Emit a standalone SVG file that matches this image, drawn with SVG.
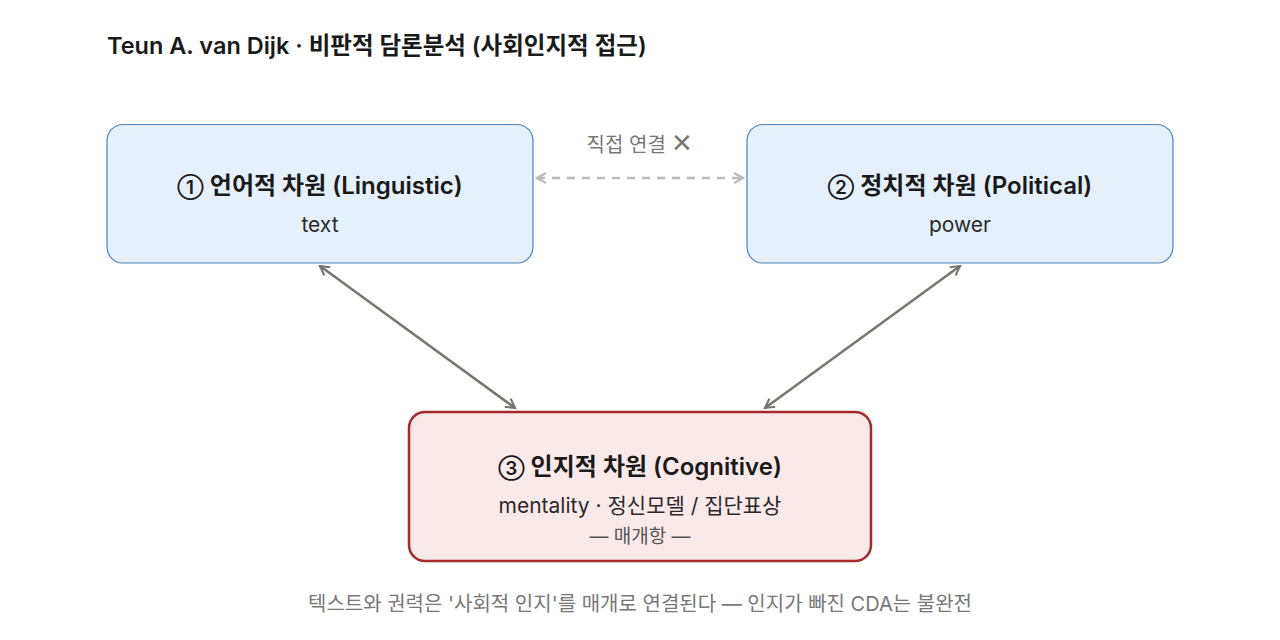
<svg xmlns="http://www.w3.org/2000/svg" width="1280" height="640" viewBox="0 0 1280 640">
<style>
text{font-family:Inter,"Noto Sans CJK KR",sans-serif}
.title{font-size:23.5px;font-weight:600;fill:#1a1a1a}
.h{font-size:24px;font-weight:600;fill:#1a1a1a;text-anchor:middle}
.c{font-size:19px}
.s{font-size:21px;fill:#2a2a2a;text-anchor:middle}
.g{font-size:19px;fill:#555;text-anchor:middle}
.note{font-size:20px;fill:#777;text-anchor:middle}
.blue{fill:#e5f0fb;stroke:#4f82bf;stroke-width:1.2}
.red{fill:#fae9e9;stroke:#a52a2a;stroke-width:2.5}
.conn{stroke:#77756f;stroke-width:2.5;fill:none}
.dash{stroke:#bbbbbb;stroke-width:2.5;fill:none;stroke-dasharray:8 7}
</style>
<defs>
<marker id="a" viewBox="0 0 12 12" refX="10" refY="6" markerWidth="12" markerHeight="12" markerUnits="userSpaceOnUse" orient="auto-start-reverse">
<path d="M1,1 L10,6 L1,11" fill="none" stroke="#77756f" stroke-width="2.2"/>
</marker>
<marker id="d" viewBox="0 0 12 12" refX="10" refY="6" markerWidth="12" markerHeight="12" markerUnits="userSpaceOnUse" orient="auto-start-reverse">
<path d="M1,1 L10,6 L1,11" fill="none" stroke="#bbbbbb" stroke-width="2.2"/>
</marker>
</defs>
<rect width="1280" height="640" fill="#fff"/>
<text class="title" x="107" y="54">Teun A. van Dijk · 비판적 담론분석 (사회인지적 접근)</text>
<g id="connectors">
<line class="dash" x1="537" y1="178" x2="743" y2="178" marker-start="url(#d)" marker-end="url(#d)"/>
<line class="conn" x1="320" y1="266" x2="515" y2="408" marker-start="url(#a)" marker-end="url(#a)"/>
<line class="conn" x1="960" y1="266" x2="765" y2="408" marker-start="url(#a)" marker-end="url(#a)"/>
<text class="note" x="640" y="152">직접 연결 <tspan font-size="26" font-weight="300">✕</tspan></text>
</g>
<g id="node1">
<rect class="blue" x="107" y="124.5" width="426" height="138.5" rx="16"/>
<text class="h" x="320" y="194"><tspan class="c">①</tspan> 언어적 차원 (Linguistic)</text>
<text class="s" x="320" y="232">text</text>
</g>
<g id="node2">
<rect class="blue" x="747" y="124.5" width="426" height="138.5" rx="16"/>
<text class="h" x="960" y="194"><tspan class="c">②</tspan> 정치적 차원 (Political)</text>
<text class="s" x="960" y="232">power</text>
</g>
<g id="node3">
<rect class="red" x="409" y="412" width="462" height="149" rx="16"/>
<text class="h" x="640" y="475"><tspan class="c">③</tspan> 인지적 차원 (Cognitive)</text>
<text class="s" x="640" y="513">mentality · 정신모델 / 집단표상</text>
<text class="g" x="640" y="543">— 매개항 —</text>
</g>
<text class="note" x="640" y="611">텍스트와 권력은 '사회적 인지'를 매개로 연결된다 — 인지가 빠진 CDA는 불완전</text>
</svg>
